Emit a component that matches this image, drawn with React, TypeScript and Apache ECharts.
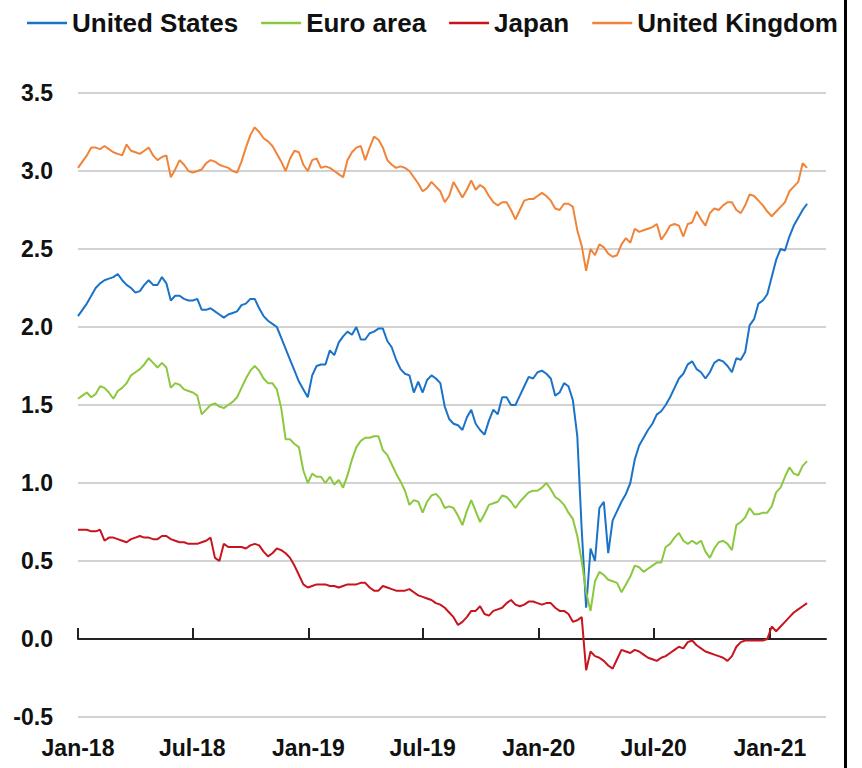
import React, { useEffect, useRef } from "react";
import * as echarts from "echarts";

// ---- data ----
const seriesNames = ["United States", "Euro area", "Japan", "United Kingdom"];
const seriesColors = ["#1a73c8", "#8cc83f", "#c8141e", "#f0843a"];

// weekly observations starting 1 Jan 2018
const firstYear = 2018;
const firstMonth = 0;
const firstDay = 1;
const stepDays = 7;

const tickDates = [
  [2018, 0, 1], [2018, 6, 1], [2019, 0, 1], [2019, 6, 1],
  [2020, 0, 1], [2020, 6, 1], [2021, 0, 1],
];
const tickLabels = ["Jan-18", "Jul-18", "Jan-19", "Jul-19", "Jan-20", "Jul-20", "Jan-21"];
const xMinDate = [2018, 0, 1];
const xMaxDate = [2021, 2, 31];

const yMin = -0.5;
const yMax = 3.5;
const yStep = 0.5;

const usValues = [
  2.07, 2.11, 2.15, 2.20, 2.25, 2.28, 2.30, 2.31, 2.32, 2.34,
  2.30, 2.27, 2.25, 2.22, 2.23, 2.27, 2.30, 2.27, 2.27, 2.32,
  2.28, 2.17, 2.20, 2.20, 2.18, 2.17, 2.17, 2.18, 2.11, 2.11,
  2.12, 2.10, 2.08, 2.06, 2.08, 2.09, 2.10, 2.14, 2.15, 2.18,
  2.18, 2.12, 2.07, 2.04, 2.02, 2.00, 1.93, 1.86, 1.79, 1.72,
  1.65, 1.60, 1.55, 1.69, 1.75, 1.76, 1.76, 1.85, 1.82, 1.90,
  1.94, 1.97, 1.95, 2.00, 1.92, 1.92, 1.96, 1.97, 1.99, 1.99,
  1.91, 1.87, 1.79, 1.73, 1.70, 1.69, 1.58, 1.65, 1.58, 1.66,
  1.69, 1.67, 1.64, 1.49, 1.41, 1.38, 1.37, 1.34, 1.42, 1.47,
  1.38, 1.34, 1.31, 1.40, 1.47, 1.44, 1.55, 1.55, 1.50, 1.50,
  1.56, 1.62, 1.68, 1.67, 1.71, 1.72, 1.70, 1.67, 1.56, 1.58,
  1.64, 1.62, 1.53, 1.30, 0.70, 0.20, 0.58, 0.50, 0.84, 0.88,
  0.55, 0.76, 0.82, 0.88, 0.93, 1.00, 1.15, 1.24, 1.29, 1.34,
  1.38, 1.44, 1.46, 1.50, 1.55, 1.61, 1.67, 1.70, 1.76, 1.78,
  1.73, 1.71, 1.67, 1.71, 1.77, 1.79, 1.78, 1.75, 1.71, 1.80,
  1.79, 1.84, 2.01, 2.05, 2.15, 2.17, 2.21, 2.32, 2.43, 2.50,
  2.49, 2.58, 2.65, 2.70, 2.75, 2.79,
];

const euroValues = [
  1.54, 1.56, 1.58, 1.55, 1.57, 1.62, 1.61, 1.58, 1.54, 1.59,
  1.61, 1.64, 1.69, 1.71, 1.73, 1.76, 1.80, 1.77, 1.74, 1.77,
  1.74, 1.61, 1.64, 1.63, 1.60, 1.59, 1.58, 1.56, 1.44, 1.47,
  1.50, 1.51, 1.49, 1.48, 1.50, 1.52, 1.55, 1.61, 1.67, 1.72,
  1.75, 1.72, 1.67, 1.64, 1.64, 1.60, 1.48, 1.28, 1.28, 1.25,
  1.23, 1.08, 1.00, 1.06, 1.04, 1.04, 1.00, 1.04, 0.99, 1.02,
  0.97, 1.05, 1.15, 1.23, 1.27, 1.29, 1.29, 1.30, 1.30, 1.21,
  1.18, 1.12, 1.06, 1.01, 0.95, 0.86, 0.89, 0.88, 0.81, 0.88,
  0.92, 0.93, 0.90, 0.84, 0.85, 0.84, 0.79, 0.73, 0.82, 0.89,
  0.82, 0.75, 0.80, 0.86, 0.87, 0.88, 0.92, 0.91, 0.88, 0.84,
  0.88, 0.91, 0.94, 0.95, 0.95, 0.97, 1.00, 0.96, 0.91, 0.89,
  0.86, 0.81, 0.77, 0.66, 0.50, 0.30, 0.18, 0.37, 0.43, 0.41,
  0.38, 0.37, 0.36, 0.30, 0.35, 0.40, 0.47, 0.46, 0.43, 0.45,
  0.47, 0.49, 0.49, 0.59, 0.61, 0.65, 0.68, 0.63, 0.61, 0.63,
  0.61, 0.63, 0.56, 0.52, 0.58, 0.62, 0.63, 0.61, 0.57, 0.73,
  0.75, 0.78, 0.84, 0.80, 0.80, 0.81, 0.81, 0.85, 0.94, 0.97,
  1.04, 1.10, 1.06, 1.05, 1.11, 1.14,
];

const japanValues = [
  0.70, 0.70, 0.70, 0.69, 0.69, 0.70, 0.63, 0.65, 0.65, 0.64,
  0.63, 0.62, 0.64, 0.65, 0.66, 0.65, 0.65, 0.64, 0.64, 0.66,
  0.66, 0.64, 0.63, 0.62, 0.62, 0.61, 0.61, 0.61, 0.62, 0.63,
  0.65, 0.52, 0.50, 0.61, 0.59, 0.59, 0.59, 0.59, 0.58, 0.60,
  0.61, 0.60, 0.56, 0.53, 0.55, 0.58, 0.57, 0.55, 0.52, 0.47,
  0.41, 0.35, 0.33, 0.34, 0.35, 0.35, 0.35, 0.34, 0.34, 0.33,
  0.34, 0.35, 0.35, 0.35, 0.36, 0.36, 0.33, 0.31, 0.31, 0.34,
  0.33, 0.32, 0.31, 0.31, 0.31, 0.32, 0.30, 0.28, 0.27, 0.26,
  0.25, 0.23, 0.22, 0.20, 0.17, 0.14, 0.09, 0.11, 0.14, 0.18,
  0.18, 0.21, 0.16, 0.15, 0.18, 0.19, 0.20, 0.23, 0.25, 0.22,
  0.21, 0.22, 0.24, 0.24, 0.23, 0.22, 0.23, 0.23, 0.20, 0.18,
  0.18, 0.16, 0.11, 0.12, 0.14, -0.20, -0.08, -0.11, -0.12, -0.14,
  -0.17, -0.19, -0.13, -0.07, -0.08, -0.09, -0.07, -0.08, -0.10, -0.12,
  -0.13, -0.14, -0.12, -0.11, -0.09, -0.07, -0.05, -0.06, -0.02, -0.01,
  -0.04, -0.06, -0.08, -0.09, -0.10, -0.11, -0.12, -0.14, -0.11, -0.05,
  -0.02, -0.01, -0.01, -0.01, -0.01, -0.01, 0.00, 0.08, 0.05, 0.08,
  0.11, 0.14, 0.17, 0.19, 0.21, 0.23,
];

const ukValues = [
  3.02, 3.06, 3.10, 3.15, 3.15, 3.14, 3.16, 3.14, 3.12, 3.11,
  3.10, 3.17, 3.13, 3.12, 3.11, 3.13, 3.15, 3.10, 3.07, 3.09,
  3.10, 2.96, 3.01, 3.07, 3.04, 3.00, 2.99, 3.00, 3.01, 3.05,
  3.07, 3.06, 3.04, 3.03, 3.02, 3.00, 2.99, 3.06, 3.15, 3.23,
  3.28, 3.25, 3.21, 3.19, 3.16, 3.11, 3.06, 3.00, 3.08, 3.13,
  3.12, 3.04, 3.00, 3.07, 3.08, 3.02, 3.03, 3.02, 3.00, 2.98,
  2.96, 3.07, 3.12, 3.15, 3.16, 3.07, 3.15, 3.22, 3.20, 3.15,
  3.07, 3.04, 3.02, 3.03, 3.02, 3.00, 2.96, 2.92, 2.87, 2.89,
  2.93, 2.90, 2.87, 2.80, 2.84, 2.93, 2.88, 2.83, 2.88, 2.94,
  2.88, 2.91, 2.89, 2.84, 2.80, 2.78, 2.80, 2.80, 2.75, 2.69,
  2.75, 2.81, 2.82, 2.82, 2.84, 2.86, 2.84, 2.81, 2.76, 2.75,
  2.79, 2.79, 2.77, 2.62, 2.52, 2.36, 2.50, 2.46, 2.53, 2.51,
  2.47, 2.45, 2.46, 2.53, 2.57, 2.54, 2.63, 2.61, 2.62, 2.63,
  2.64, 2.66, 2.56, 2.60, 2.65, 2.66, 2.65, 2.58, 2.66, 2.67,
  2.74, 2.69, 2.65, 2.73, 2.76, 2.75, 2.78, 2.80, 2.80, 2.75,
  2.73, 2.78, 2.85, 2.84, 2.81, 2.78, 2.74, 2.71, 2.74, 2.77,
  2.80, 2.87, 2.90, 2.93, 3.05, 3.02,
];

const allValues = [usValues, euroValues, japanValues, ukValues];

const FONT = "'Liberation Sans', Arial, sans-serif";

const toTime = (d: number[]) => new Date(d[0], d[1], d[2]).getTime();

export default function App() {
  const ref = useRef<HTMLDivElement>(null);

  useEffect(() => {
    if (!ref.current) return;
    const chart = echarts.init(ref.current, undefined, { renderer: "svg" });

    const tickTimes = tickDates.map(toTime);
    const labelFor = (v: number) => {
      let best = -1;
      let bestDiff = Infinity;
      tickTimes.forEach((t, i) => {
        const diff = Math.abs(t - v);
        if (diff < bestDiff) {
          bestDiff = diff;
          best = i;
        }
      });
      return bestDiff < 3 * 86400000 ? tickLabels[best] : "";
    };

    const obsTime = (i: number) =>
      new Date(firstYear, firstMonth, firstDay + stepDays * i).getTime();

    const xMin = toTime(xMinDate);
    const xMax = toTime(xMaxDate);

    const option: any = {
      animation: false,
      backgroundColor: "#ffffff",
      color: seriesColors,
      grid: {
        left: 78,
        right: 36,
        top: 93,
        bottom: 51,
        containLabel: false,
        outerBoundsMode: "none",
      },
      legend: {
        left: 22,
        top: 5,
        icon: "rect",
        itemWidth: 40,
        itemHeight: 2.5,
        itemGap: 23,
        data: seriesNames,
        textStyle: {
          fontFamily: FONT,
          fontWeight: "bold",
          fontSize: 26,
          color: "#111111",
        },
      },
      xAxis: [
        {
          type: "value",
          min: xMin,
          max: xMax,
          position: "bottom",
          axisLine: { show: false, onZero: false },
          axisTick: { show: false },
          splitLine: { show: false },
          axisLabel: {
            customValues: tickTimes,
            formatter: (v: number) => labelFor(v),
            fontFamily: FONT,
            fontWeight: "bold",
            fontSize: 23,
            color: "#111111",
            margin: 19,
            hideOverlap: false,
          },
        },
        {
          type: "value",
          min: xMin,
          max: xMax,
          position: "bottom",
          axisLine: { show: true, onZero: true, lineStyle: { color: "#222222", width: 2 } },
          axisTick: {
            show: true,
            inside: true,
            length: 11,
            customValues: tickTimes,
            lineStyle: { color: "#222222", width: 2 },
          },
          axisLabel: { show: false },
          splitLine: { show: false },
        },
      ],
      yAxis: {
        type: "value",
        min: yMin,
        max: yMax,
        interval: yStep,
        axisLine: { show: false },
        axisTick: { show: false },
        splitLine: { show: true, lineStyle: { color: "#d2d2d2", width: 2 } },
        axisLabel: {
          formatter: (v: number) => v.toFixed(1),
          fontFamily: FONT,
          fontWeight: "bold",
          fontSize: 23,
          color: "#111111",
          margin: 25,
        },
      },
      series: seriesNames.map((name, k) => ({
        name,
        type: "line",
        xAxisIndex: 0,
        showSymbol: false,
        symbol: "none",
        lineStyle: { width: 2, color: seriesColors[k] },
        itemStyle: { color: seriesColors[k] },
        data: allValues[k].map((v, i) => [obsTime(i), v]),
        z: 3,
      })),
      graphic: [
        {
          type: "rect",
          right: 15,
          top: 0,
          shape: { width: 3, height: 768 },
          style: { fill: "#000000" },
          silent: true,
        },
      ],
    };

    chart.setOption(option);
    return () => chart.dispose();
  }, []);

  return (
    <div
      ref={ref}
      style={{ position: "fixed", left: 0, top: 0, width: 862, height: 768, background: "#fff" }}
    />
  );
}
